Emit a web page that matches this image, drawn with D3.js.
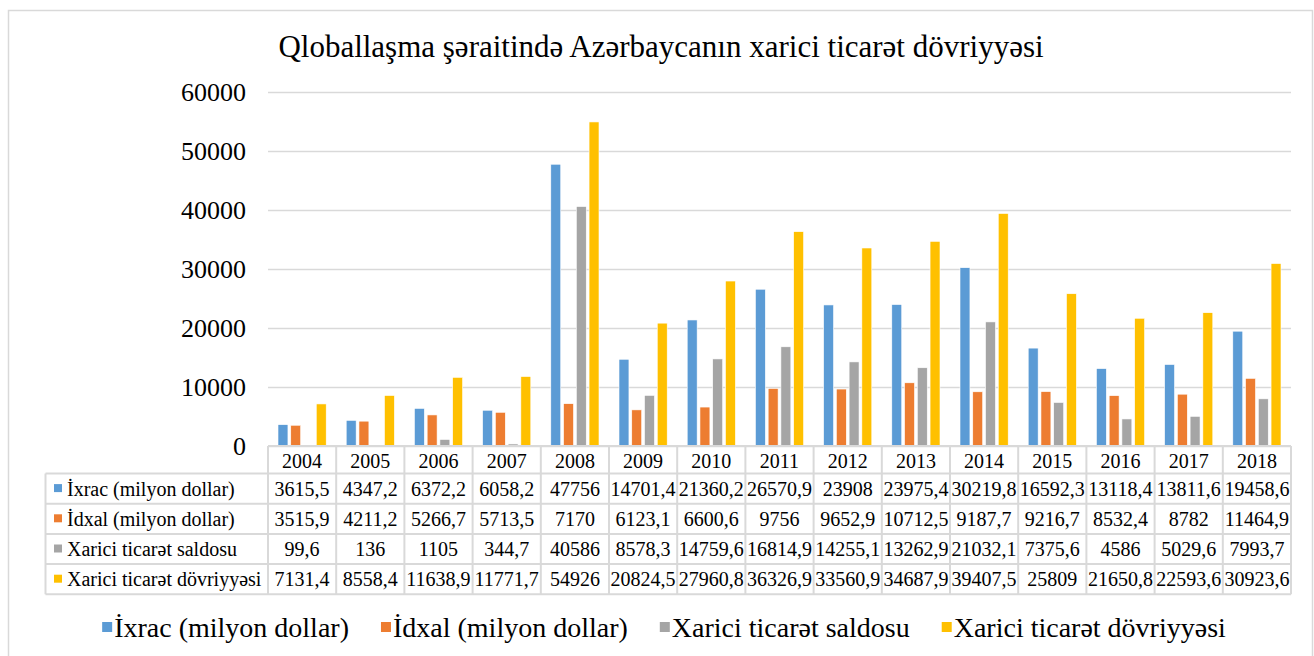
<!DOCTYPE html>
<html>
<head>
<meta charset="utf-8">
<script src="https://cdn.jsdelivr.net/npm/d3@7"></script>
<style>
  body { margin: 0; background: #fff; }
  svg text { font-family: "Liberation Serif", "Times New Roman", serif; fill: #000; }
</style>
</head>
<body>
<svg id="chart" width="1314" height="656"></svg>
<script>
var years = ["2004","2005","2006","2007","2008","2009","2010","2011","2012","2013","2014","2015","2016","2017","2018"];
var seriesNames = ["İxrac (milyon dollar)", "İdxal (milyon dollar)", "Xarici ticarət saldosu", "Xarici ticarət dövriyyəsi"];
var ixrac = [3615.5, 4347.2, 6372.2, 6058.2, 47756, 14701.4, 21360.2, 26570.9, 23908, 23975.4, 30219.8, 16592.3, 13118.4, 13811.6, 19458.6];
var idxal = [3515.9, 4211.2, 5266.7, 5713.5, 7170, 6123.1, 6600.6, 9756, 9652.9, 10712.5, 9187.7, 9216.7, 8532.4, 8782, 11464.9];
var saldo = [99.6, 136, 1105, 344.7, 40586, 8578.3, 14759.6, 16814.9, 14255.1, 13262.9, 21032.1, 7375.6, 4586, 5029.6, 7993.7];
var dovriyye = [7131.4, 8558.4, 11638.9, 11771.7, 54926, 20824.5, 27960.8, 36326.9, 33560.9, 34687.9, 39407.5, 25809, 21650.8, 22593.6, 30923.6];
var yTicks = [0, 10000, 20000, 30000, 40000, 50000, 60000];
var colors = ["#5b9bd5", "#ed7d31", "#a5a5a5", "#ffc000"];
var title = "Qloballaşma şəraitində Azərbaycanın xarici ticarət dövriyyəsi";

var allSeries = [ixrac, idxal, saldo, dovriyye];

var svg = d3.select("#chart"),
	margin = {top: 92, left: 268},
	plotRight = 1291,
	baseY = 446,
	serif = "'Liberation Serif', 'Times New Roman', serif";

function fmt(v) {
	return String(v).replace(".", ",");
}

// outer frame
svg.append("rect")
	.attr("x", 8.5).attr("y", 10.5)
	.attr("width", 1304).attr("height", 700)
	.attr("fill", "none")
	.attr("stroke", "#d9d9d9")
	.attr("stroke-width", 1.5);

svg.append("text")
	.attr("x", 661)
	.attr("y", 57)
	.attr("text-anchor", "middle")
	.style("font-family", serif)
	.style("font-size", "31px")
	.text(title);

var x0 = d3.scaleBand()
	.domain(years)
	.range([margin.left, plotRight]);

var x1 = d3.scaleBand()
	.domain(d3.range(4))
	.range([10, x0.bandwidth() - 10])
	.paddingInner(0.22);

var y = d3.scaleLinear()
	.domain([0, 60000])
	.range([baseY, margin.top]);

// gridlines
svg.append("g")
	.selectAll("line")
	.data(yTicks)
	.enter().append("line")
	.attr("x1", margin.left)
	.attr("x2", plotRight)
	.attr("y1", d => Math.round(y(d)) + 0.5)
	.attr("y2", d => Math.round(y(d)) + 0.5)
	.attr("stroke", "#d9d9d9")
	.attr("stroke-width", 1.5);

var yAxis = svg.append("g")
	.attr("transform", `translate(${margin.left},0)`)
	.call(d3.axisLeft(y).tickValues(yTicks).tickSize(0).tickPadding(22).tickFormat(d => d));
yAxis.attr("font-family", null);
yAxis.select(".domain").remove();
yAxis.selectAll("text")
	.style("font-family", serif)
	.style("font-size", "26px")
	.attr("dy", "0.34em");

// bars
var groups = svg.append("g")
	.selectAll("g")
	.data(years)
	.enter().append("g")
	.attr("transform", d => `translate(${x0(d)},0)`);

groups.selectAll("rect")
	.data((d, i) => allSeries.map((s, k) => ({k: k, v: s[i]})))
	.enter().append("rect")
	.attr("x", d => x1(d.k))
	.attr("width", x1.bandwidth())
	.attr("y", d => y(d.v))
	.attr("height", d => baseY - y(d.v))
	.attr("fill", d => colors[d.k])
	.attr("stroke", "#fff")
	.attr("stroke-width", 0.6);

// data table
var headerTop = baseY, headerBottom = 473.5;
var rowH = 30.2;
var labelLeft = 45.5;
var tableBottom = headerBottom + rowH * 4;
var table = svg.append("g");
var tcol = "#d9d9d9";

table.append("line")
	.attr("x1", margin.left).attr("x2", plotRight)
	.attr("y1", headerTop).attr("y2", headerTop)
	.attr("stroke", tcol).attr("stroke-width", 2);
d3.range(5).forEach(function(r) {
	var yy = headerBottom + r * rowH;
	table.append("line")
		.attr("x1", labelLeft).attr("x2", plotRight)
		.attr("y1", yy).attr("y2", yy)
		.attr("stroke", tcol).attr("stroke-width", 2);
});
years.concat(["end"]).forEach(function(yr, i) {
	var xx = i < years.length ? x0(yr) : plotRight;
	table.append("line")
		.attr("x1", xx).attr("x2", xx)
		.attr("y1", headerTop).attr("y2", tableBottom)
		.attr("stroke", tcol).attr("stroke-width", 2);
});
table.append("line")
	.attr("x1", labelLeft).attr("x2", labelLeft)
	.attr("y1", headerBottom).attr("y2", tableBottom)
	.attr("stroke", tcol).attr("stroke-width", 2);

table.selectAll(".yr")
	.data(years)
	.enter().append("text")
	.attr("class", "yr")
	.attr("x", d => x0(d) + x0.bandwidth() / 2)
	.attr("y", (headerTop + headerBottom) / 2 + 1)
	.attr("dy", "0.35em")
	.attr("text-anchor", "middle")
	.style("font-family", serif)
	.style("font-size", "20px")
	.text(d => d);

allSeries.forEach(function(s, k) {
	var cy = headerBottom + rowH * k + rowH / 2;
	table.append("rect")
		.attr("x", 54).attr("y", cy - 4.5)
		.attr("width", 8).attr("height", 8)
		.attr("fill", colors[k]);
	table.append("text")
		.attr("x", 67)
		.attr("y", cy)
		.attr("dy", "0.35em")
		.style("font-family", serif)
		.style("font-size", "20px")
		.text(seriesNames[k]);
	table.selectAll(".v" + k)
		.data(s)
		.enter().append("text")
		.attr("x", (d, i) => x0(years[i]) + x0.bandwidth() / 2)
		.attr("y", cy)
		.attr("dy", "0.35em")
		.attr("text-anchor", "middle")
		.style("font-family", serif)
		.style("font-size", "20px")
		.text(d => fmt(d));
});

// legend
var legend = svg.append("g");
var lx = 0;
seriesNames.forEach(function(name, k) {
	var item = legend.append("g").attr("transform", `translate(${lx},0)`);
	item.append("rect")
		.attr("x", 0).attr("y", -6)
		.attr("width", 10).attr("height", 10)
		.attr("fill", colors[k]);
	var t = item.append("text")
		.attr("x", 12)
		.attr("y", 0)
		.attr("dy", "0.33em")
		.style("font-family", serif)
		.style("font-size", "28px")
		.text(name);
	lx += 12 + t.node().getComputedTextLength() + 32;
});
lx -= 32;
legend.attr("transform", `translate(${664 - lx / 2},628)`);
</script>
</body>
</html>
